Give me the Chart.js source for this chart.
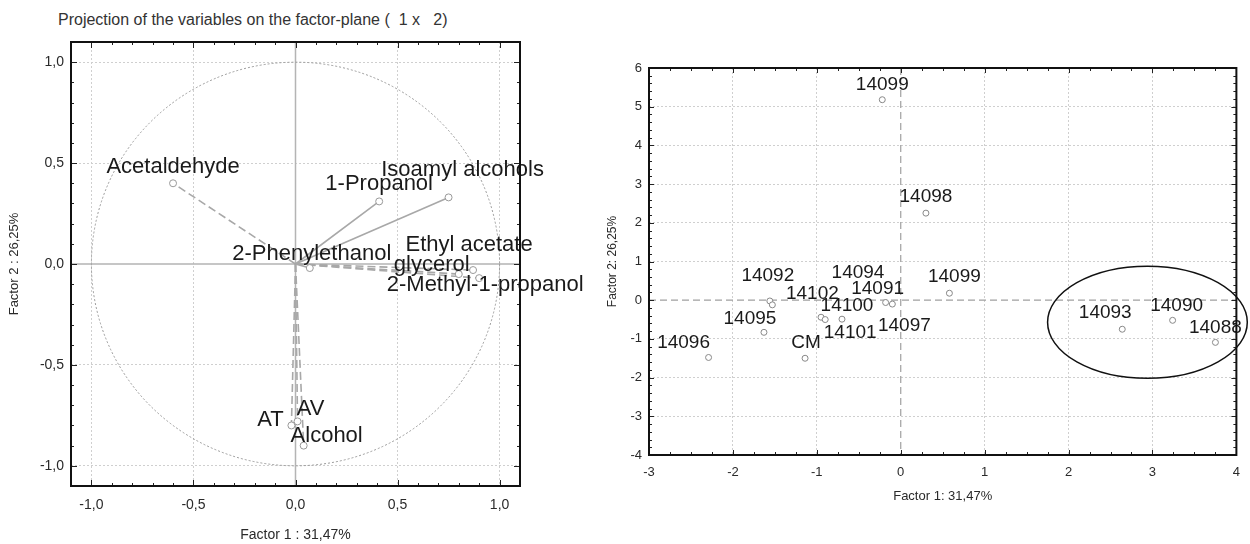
<!DOCTYPE html>
<html>
<head>
<meta charset="utf-8">
<script src="https://cdn.jsdelivr.net/npm/chart.js@4"></script>
<style>
  body { margin: 0; background: #fff; width: 1250px; height: 544px; overflow: hidden; position: relative; font-family: "Liberation Sans", Arial, sans-serif; }
  #left { position: absolute; left: 0; top: 0; width: 600px; height: 544px; }
  #right { position: absolute; left: 600px; top: 0; width: 650px; height: 544px; }
  #title { position: absolute; left: 58px; top: 11px; font-size: 16px; color: #333; white-space: pre; }
</style>
</head>
<body>
<div id="title">Projection of the variables on the factor-plane (  1 x   2)</div>
<div id="left"><canvas id="loadings"></canvas></div>
<div id="right"><canvas id="scores"></canvas></div>
<script>
// variables (left plot)
const varNames = ["Acetaldehyde", "1-Propanol", "Isoamyl alcohols", "2-Phenylethanol", "Ethyl acetate", "glycerol", "2-Methyl-1-propanol", "AT", "AV", "Alcohol"];
const varF1 = [-0.60, 0.41, 0.75, 0.07, 0.87, 0.80, 0.90, -0.02, 0.01, 0.04];
const varF2 = [0.40, 0.31, 0.33, -0.02, -0.03, -0.05, -0.07, -0.80, -0.78, -0.90];
const circleRadius = 1;
const loadTicks = [-1.0, -0.5, 0, 0.5, 1.0];
const loadTickLabels = ["-1,0", "-0,5", "0,0", "0,5", "1,0"];

// samples (right plot)
const sampleNames = ["14099", "14098", "14099", "14091", "14097", "14092", "14102", "14094", "14100", "14101", "14095", "14096", "CM", "14093", "14090", "14088"];
const scoreF1 = [-0.22, 0.30, 0.58, -0.18, -0.10, -1.56, -1.53, -0.95, -0.70, -0.90, -1.63, -2.29, -1.14, 2.64, 3.24, 3.75];
const scoreF2 = [5.18, 2.25, 0.18, -0.06, -0.10, -0.02, -0.12, -0.44, -0.49, -0.50, -0.83, -1.48, -1.50, -0.75, -0.52, -1.09];
const scoreXTicks = [-3, -2, -1, 0, 1, 2, 3, 4];
const scoreYTicks = [-4, -3, -2, -1, 0, 1, 2, 3, 4, 5, 6];
const ellipseCenter = [2.94, -0.57];
const ellipseRadii = [1.19, 1.45];

// styles
const FONT = '"Liberation Sans", Arial, sans-serif';
const varDashed = [true, false, false, false, true, true, true, true, true, true];
const varLabelOffset = [[0, -16], [0, -17], [14, -27], [2, -14], [-4, -25], [-27, -9], [6, 7], [-21, -6], [13, -12], [23, -10]];
const sampleLabelOffset = [[0, -15], [0, -16], [5, -16], [-8, -14], [12, 22], [-2, -25], [40, -11], [37, -44], [5, -13], [25, 13], [-14, -14], [-25, -15], [1, -15], [-17, -16], [4, -15], [0, -15]];

function frame(chart, xMarks, yMarks) {
  const { ctx, chartArea: a, scales: { x, y } } = chart;
  ctx.save();
  ctx.strokeStyle = "#222";
  ctx.lineWidth = 1;
  ctx.beginPath();
  xMarks.forEach(([v, len]) => {
    const px = Math.round(x.getPixelForValue(v)) + 0.5;
    ctx.moveTo(px, a.top); ctx.lineTo(px, a.top + len);
    ctx.moveTo(px, a.bottom); ctx.lineTo(px, a.bottom - len);
  });
  yMarks.forEach(([v, len]) => {
    const py = Math.round(y.getPixelForValue(v)) + 0.5;
    ctx.moveTo(a.left, py); ctx.lineTo(a.left + len, py);
    ctx.moveTo(a.right, py); ctx.lineTo(a.right - len, py);
  });
  ctx.stroke();
  ctx.lineWidth = 2;
  ctx.strokeStyle = "#111";
  ctx.strokeRect(a.left, a.top, a.right - a.left, a.bottom - a.top);
  ctx.restore();
}

function zeroLines(chart, color, dash, width) {
  const { ctx, chartArea: a, scales: { x, y } } = chart;
  ctx.save();
  ctx.strokeStyle = color;
  ctx.lineWidth = width;
  ctx.setLineDash(dash);
  const px = x.getPixelForValue(0), py = y.getPixelForValue(0);
  ctx.beginPath();
  ctx.moveTo(px, a.top); ctx.lineTo(px, a.bottom);
  ctx.moveTo(a.left, py); ctx.lineTo(a.right, py);
  ctx.stroke();
  ctx.restore();
}

function pointLabels(chart, pts, names, offsets, font) {
  const ctx = chart.ctx;
  ctx.save();
  ctx.font = font;
  ctx.fillStyle = "#1a1a1a";
  ctx.textAlign = "center";
  ctx.textBaseline = "middle";
  pts.forEach((p, i) => ctx.fillText(names[i], p.x + offsets[i][0], p.y + offsets[i][1]));
  ctx.restore();
}

function marks(from, to, div, every, big, small) {
  const out = [];
  for (let k = from; k <= to; k++) out.push([k / div, k % every === 0 ? big : small]);
  return out;
}

function axisBase(ticks, labels, pad, size) {
  return {
    type: "linear",
    afterBuildTicks: s => { s.ticks = ticks.map(v => ({ value: v })); },
    ticks: {
      callback: (v, i) => labels[i],
      autoSkip: false, maxRotation: 0, padding: pad,
      color: "#2a2a2a", font: { family: FONT, size: size },
    },
    grid: {
      color: c => (c.tick && c.tick.value === 0 ? "rgba(0,0,0,0)" : "#cfcfcf"),
      drawTicks: false, lineWidth: 1,
    },
    border: { display: false, dash: [2, 2] },
  };
}

// ---------- left: loadings ----------
const loadDatasets = varNames.map((n, i) => ({
  label: n,
  data: [{ x: 0, y: 0 }, { x: varF1[i], y: varF2[i] }],
  showLine: true,
  borderColor: "#a8a8a8",
  borderWidth: 1.6,
  borderDash: varDashed[i] ? [8, 4] : [],
  pointRadius: c => (c.dataIndex === 0 ? 0 : 3.5),
  pointBackgroundColor: "#fff",
  pointBorderColor: "#999",
  pointBorderWidth: 1,
}));

const loadX = axisBase(loadTicks, loadTickLabels, 11, 14);
Object.assign(loadX, {
  min: -1.1, max: 1.1,
  afterFit: s => { s.height = 58; },
  title: { display: true, text: "Factor 1 : 31,47%", color: "#2a2a2a", font: { family: FONT, size: 14 }, padding: { top: 0, bottom: 0 } },
});
const loadY = axisBase(loadTicks, loadTickLabels, 7, 14);
Object.assign(loadY, {
  min: -1.1, max: 1.1,
  afterFit: s => { s.width = 71; },
  title: { display: true, text: "Factor 2 : 26,25%", color: "#2a2a2a", font: { family: FONT, size: 13 }, padding: { top: 7, bottom: 0 } },
});

new Chart(document.getElementById("loadings"), {
  type: "scatter",
  data: { datasets: loadDatasets },
  options: {
    responsive: true, maintainAspectRatio: false, animation: false,
    layout: { padding: { top: 42, right: 80, bottom: 0, left: 0 } },
    plugins: { legend: { display: false }, tooltip: { enabled: false } },
    scales: { x: loadX, y: loadY },
  },
  plugins: [{
    id: "loadDeco",
    beforeDatasetsDraw(chart) {
      zeroLines(chart, "#b4b4b4", [], 1.5);
      const { ctx, scales: { x, y } } = chart;
      const cx = x.getPixelForValue(0), cy = y.getPixelForValue(0);
      ctx.save();
      ctx.strokeStyle = "#9a9a9a";
      ctx.lineWidth = 1;
      ctx.setLineDash([2, 2]);
      ctx.beginPath();
      ctx.ellipse(cx, cy, x.getPixelForValue(circleRadius) - cx, cy - y.getPixelForValue(circleRadius), 0, 0, Math.PI * 2);
      ctx.stroke();
      ctx.restore();
    },
    afterDatasetsDraw(chart) {
      const pts = chart.data.datasets.map((d, i) => chart.getDatasetMeta(i).data[1]);
      pointLabels(chart, pts, varNames, varLabelOffset, `22px ${FONT}`);
    },
    afterDraw(chart) {
      frame(chart, marks(-11, 11, 10, 5, 6, 3), marks(-11, 11, 10, 5, 6, 3));
    },
  }],
});

// ---------- right: scores ----------
const scoreX = axisBase(scoreXTicks, scoreXTicks.map(String), 10, 13);
Object.assign(scoreX, {
  min: -3, max: 4,
  afterFit: s => { s.height = 49; },
  title: { display: true, text: "Factor 1: 31,47%", color: "#2a2a2a", font: { family: FONT, size: 13 }, padding: { top: 0, bottom: 0 } },
});
const scoreY = axisBase(scoreYTicks, scoreYTicks.map(String), 7, 13);
Object.assign(scoreY, {
  min: -4, max: 6,
  afterFit: s => { s.width = 49; },
  title: { display: true, text: "Factor 2: 26,25%", color: "#2a2a2a", font: { family: FONT, size: 12 }, padding: { top: 5, bottom: 0 } },
});

new Chart(document.getElementById("scores"), {
  type: "scatter",
  data: {
    datasets: [{
      label: "samples",
      data: scoreF1.map((v, i) => ({ x: v, y: scoreF2[i] })),
      pointRadius: 3,
      pointBackgroundColor: "#fff",
      pointBorderColor: "#888",
      pointBorderWidth: 1,
    }],
  },
  options: {
    responsive: true, maintainAspectRatio: false, animation: false,
    layout: { padding: { top: 68, right: 13, bottom: 40, left: 0 } },
    plugins: { legend: { display: false }, tooltip: { enabled: false } },
    scales: { x: scoreX, y: scoreY },
  },
  plugins: [{
    id: "scoreDeco",
    beforeDatasetsDraw(chart) {
      zeroLines(chart, "#a0a0a0", [7, 4], 1.2);
    },
    afterDatasetsDraw(chart) {
      pointLabels(chart, chart.getDatasetMeta(0).data, sampleNames, sampleLabelOffset, `19px ${FONT}`);
      const { ctx, scales: { x, y } } = chart;
      const cx = x.getPixelForValue(ellipseCenter[0]), cy = y.getPixelForValue(ellipseCenter[1]);
      ctx.save();
      ctx.strokeStyle = "#111";
      ctx.lineWidth = 1.5;
      ctx.beginPath();
      ctx.ellipse(cx, cy,
        x.getPixelForValue(ellipseCenter[0] + ellipseRadii[0]) - cx,
        cy - y.getPixelForValue(ellipseCenter[1] + ellipseRadii[1]), 0, 0, Math.PI * 2);
      ctx.stroke();
      ctx.restore();
    },
    afterDraw(chart) {
      frame(chart, marks(-12, 16, 4, 4, 5, 3), marks(-20, 30, 5, 5, 5, 3));
    },
  }],
});
</script>
</body>
</html>
